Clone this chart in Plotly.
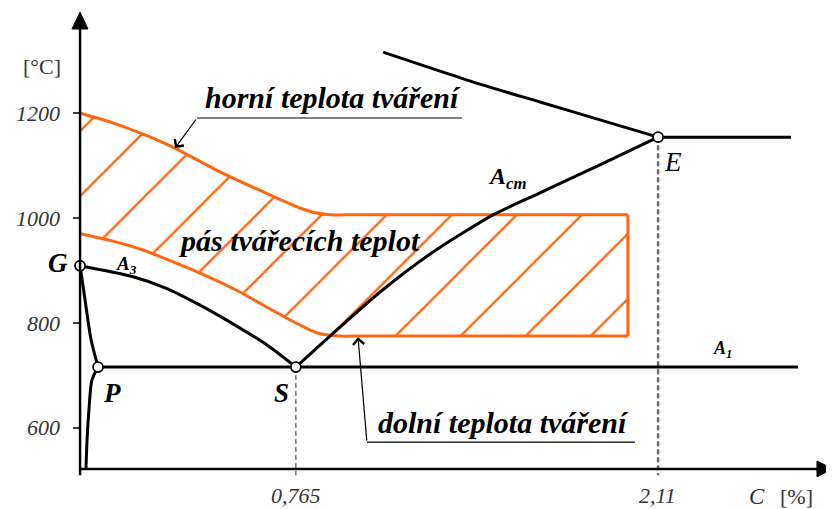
import plotly.graph_objects as go

# ---------------- data (C in %, T in °C) ----------------
# black phase boundaries
gs_C = [-0.037, 0.160, 0.279, 0.409, 0.539, 0.658, 0.765]
gs_T = [909, 888, 867, 834, 796, 758, 716]

gp_C = [-0.037, -0.022, 0.004, 0.030]
gp_T = [909, 857, 768, 716]

pq_C = [0.030, 0.007, -0.004, -0.011, -0.015]
pq_T = [716, 691, 634, 577, 522]

a1_C = [0.030, 2.631]
a1_T = [716, 716]

acm_C = [0.765, 0.892, 1.078, 1.263, 1.498, 1.672, 1.895, 2.111]
acm_T = [716, 775, 859, 931, 1006, 1048, 1101, 1154]

liq_C = [1.089, 1.449, 1.672, 1.895, 2.111]
liq_T = [1316, 1255, 1221, 1187, 1154]

ecf_C = [2.111, 2.605]
ecf_T = [1154, 1154]

# forging band (upper and lower forging temperature)
upper_C = [-0.037, 0.074, 0.186, 0.308, 0.483, 0.695, 0.780, 0.829, 0.892, 0.95, 1.999]
upper_T = [1200, 1183, 1162, 1135, 1088, 1038, 1019, 1011, 1006, 1006, 1006]
lower_C = [-0.037, 0.085, 0.197, 0.409, 0.557, 0.658, 0.743, 0.844, 0.929, 0.98, 1.999]
lower_T = [970, 956, 939, 895, 859, 830, 806, 781, 775, 775, 775]

# points
pt_names = ["G", "P", "S", "E"]
pt_C = [-0.037, 0.030, 0.765, 2.111]
pt_T = [909, 716, 716, 1154]

# ticks
y_ticks = [600, 800, 1000, 1200]
x_ticks = [0.765, 2.11]
x_tick_labels = ["0,765", "2,11"]

# ---------------- style ----------------
ORANGE = "#ff6611"
SERIF = "Liberation Serif"
# page body has an 8px margin, so the figure is 826x501 and its ranges start 8px in
X_RANGE = [-0.3047, 2.76477]
Y_RANGE = [445.7, 1400.0]
AX_C = -0.037      # position of the temperature axis
AX_T = 522         # position of the carbon axis

fig = go.Figure()

# hatched band
band_C = upper_C + lower_C[::-1]
band_T = upper_T + lower_T[::-1]
fig.add_trace(go.Scatter(
    x=band_C, y=band_T, mode="none", fill="toself",
    fillcolor="rgba(0,0,0,0)",
    fillpattern=dict(shape="/", size=46, solidity=0.05, fgcolor=ORANGE,
                     bgcolor="rgba(0,0,0,0)", fillmode="replace"),
    hoverinfo="skip"))
# band outline (not on the axis side)
for xs, ys, shp in [(upper_C, upper_T, "spline"), (lower_C, lower_T, "spline"),
                    ([upper_C[-1], lower_C[-1]], [upper_T[-1], lower_T[-1]], "linear")]:
    fig.add_trace(go.Scatter(x=xs, y=ys, mode="lines",
                             line=dict(color=ORANGE, width=3, shape=shp, smoothing=0.6),
                             hoverinfo="skip"))

# dashed verticals
for c, t, w in [(pt_C[2], pt_T[2], 1.4), (pt_C[3], pt_T[3], 2.4)]:
    fig.add_trace(go.Scatter(x=[c, c], y=[t, 510], mode="lines",
                             line=dict(color="#666666", width=w, dash="5px,3px"),
                             hoverinfo="skip"))

# black curves
for xs, ys in [(gs_C, gs_T), (gp_C, gp_T), (pq_C, pq_T), (a1_C, a1_T),
               (acm_C, acm_T), (liq_C, liq_T), (ecf_C, ecf_T)]:
    fig.add_trace(go.Scatter(x=xs, y=ys, mode="lines",
                             line=dict(color="black", width=3, shape="spline", smoothing=0.7),
                             hoverinfo="skip"))

# axes (lines + arrowheads)
shapes = [
    dict(type="line", x0=AX_C, x1=AX_C, y0=510, y1=1365, line=dict(color="black", width=2.5)),
    dict(type="line", x0=AX_C, x1=2.71, y0=AX_T, y1=AX_T, line=dict(color="black", width=2.5)),
    dict(type="path", path=f"M {AX_C},1392 L -0.067,1360 L -0.0074,1360 Z",
         fillcolor="black", line=dict(color="black", width=1)),
    dict(type="path", path=f"M 2.761,{AX_T} L 2.7015,537 L 2.7015,507 Z",
         fillcolor="black", line=dict(color="black", width=1)),
]
for t in y_ticks:
    shapes.append(dict(type="line", x0=-0.063, x1=AX_C, y0=t, y1=t,
                       line=dict(color="black", width=1.5)))
# underlines of leader labels
shapes.append(dict(type="line", x0=0.398, x1=1.382, y0=1190.5, y1=1190.5,
                   line=dict(color="black", width=1.2)))
shapes.append(dict(type="line", x0=1.029, x1=2.025, y0=573, y1=573,
                   line=dict(color="black", width=1.2)))

# points
fig.add_trace(go.Scatter(x=pt_C, y=pt_T, mode="markers",
                         marker=dict(symbol="circle", size=10, color="white",
                                     line=dict(color="black", width=1.8)),
                         hoverinfo="skip"))

ann = []
# y tick labels
for t in y_ticks:
    ann.append(dict(x=-0.104, y=t, text=f"<i>{t}</i>", showarrow=False, xanchor="right",
                    font=dict(family=SERIF, size=22, color="#333333")))
# x tick labels
for c, lab in zip(x_ticks, x_tick_labels):
    ann.append(dict(x=c, y=471, text=f"<i>{lab}</i>", showarrow=False,
                    font=dict(family=SERIF, size=22, color="#333333")))
ann.append(dict(x=-0.178, y=1288, text="[°C]", showarrow=False,
                font=dict(family=SERIF, size=22, color="#333333")))
ann.append(dict(x=2.478, y=469, text="<i>C</i>", showarrow=False,
                font=dict(family=SERIF, size=23, color="#333333")))
ann.append(dict(x=2.627, y=469, text="[%]", showarrow=False,
                font=dict(family=SERIF, size=22, color="#333333")))

# point letters
letters = {"G": (-0.119, 914, True), "P": (0.082, 667, True),
           "S": (0.713, 667, True), "E": (2.166, 1107, False)}
for name in pt_names:
    x, y, bold = letters[name]
    txt = f"<i>{name}</i>" if not bold else f"<b><i>{name}</i></b>"
    ann.append(dict(x=x, y=y, text=txt, showarrow=False,
                    font=dict(family=SERIF, size=27, color="black")))

# line names
ann.append(dict(x=0.137, y=910, text="<b><i>A<sub>3</sub></i></b>", showarrow=False,
                font=dict(family=SERIF, size=19, color="black")))
ann.append(dict(x=1.553, y=1076, text="<b><i>A<sub>cm</sub></i></b>", showarrow=False,
                font=dict(family=SERIF, size=24, color="black")))
ann.append(dict(x=2.349, y=750, text="<b><i>A<sub>1</sub></i></b>", showarrow=False,
                font=dict(family=SERIF, size=18, color="black")))

# region labels
ann.append(dict(x=0.903, y=1230, text="<b><i>horní teplota tváření</i></b>", showarrow=False,
                font=dict(family=SERIF, size=30, color="black")))
ann.append(dict(x=0.777, y=958, text="<b><i>pás tvářecích teplot</i></b>", showarrow=False,
                font=dict(family=SERIF, size=30, color="black")))
ann.append(dict(x=1.535, y=611, text="<b><i>dolní teplota tváření</i></b>", showarrow=False,
                font=dict(family=SERIF, size=30, color="black")))

# leader arrows
ann.append(dict(x=0.316, y=1133, ax=0.398, ay=1190.5, xref="x", yref="y",
                axref="x", ayref="y", text="", showarrow=True, arrowhead=4,
                arrowsize=1.8, arrowwidth=1.2, arrowcolor="black"))
ann.append(dict(x=0.996, y=773, ax=1.029, ay=573, xref="x", yref="y",
                axref="x", ayref="y", text="", showarrow=True, arrowhead=4,
                arrowsize=1.8, arrowwidth=1.2, arrowcolor="black"))

fig.update_layout(
    width=826, height=501,
    margin=dict(l=0, r=0, t=0, b=0),
    paper_bgcolor="white", plot_bgcolor="white",
    showlegend=False,
    xaxis=dict(range=X_RANGE, visible=False, fixedrange=True),
    yaxis=dict(range=Y_RANGE, visible=False, fixedrange=True),
    shapes=shapes, annotations=ann,
)

fig.write_html("out.html")
